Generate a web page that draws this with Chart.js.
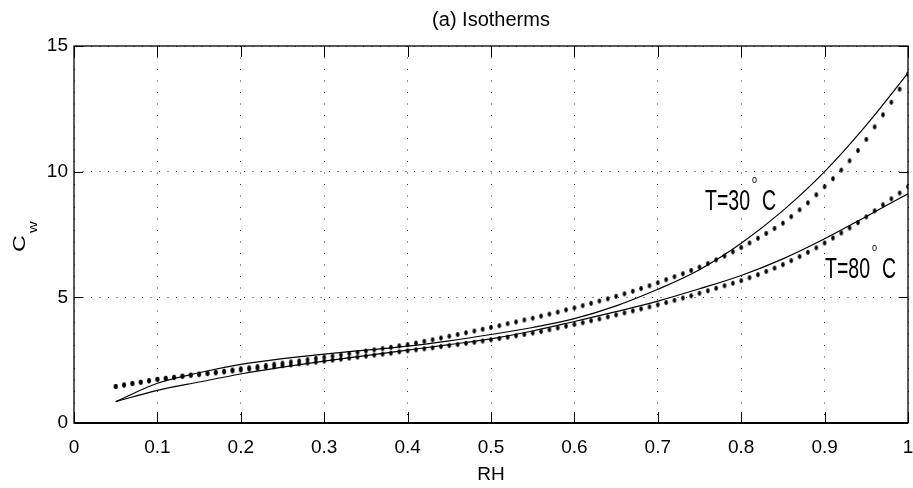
<!DOCTYPE html>
<html>
<head>
<meta charset="utf-8">
<script src="https://cdn.jsdelivr.net/npm/chart.js@4.4.1/dist/chart.umd.min.js"></script>
<style>
  html, body { margin: 0; padding: 0; background: #fff; }
  #wrap { width: 913px; height: 488px; }
</style>
</head>
<body>
<div id="wrap"><canvas id="isoChart" width="913" height="488"></canvas></div>
<script>
// relative humidity of the measured points (dots)
const rhDots = [0.05,0.06,0.07,0.08,0.09,0.10,0.11,0.12,0.13,0.14,
                0.15,0.16,0.17,0.18,0.19,0.20,0.21,0.22,0.23,0.24,
                0.25,0.26,0.27,0.28,0.29,0.30,0.31,0.32,0.33,0.34,
                0.35,0.36,0.37,0.38,0.39,0.40,0.41,0.42,0.43,0.44,
                0.45,0.46,0.47,0.48,0.49,0.50,0.51,0.52,0.53,0.54,
                0.55,0.56,0.57,0.58,0.59,0.60,0.61,0.62,0.63,0.64,
                0.65,0.66,0.67,0.68,0.69,0.70,0.71,0.72,0.73,0.74,
                0.75,0.76,0.77,0.78,0.79,0.80,0.81,0.82,0.83,0.84,
                0.85,0.86,0.87,0.88,0.89,0.90,0.91,0.92,0.93,0.94,
                0.95,0.96,0.97,0.98,0.99,1.00];

const cw30Dots = [1.45,1.51,1.57,1.62,1.68,1.74,1.78,1.82,1.87,1.91,
                  1.95,1.98,2.02,2.06,2.11,2.16,2.20,2.25,2.29,2.34,
                  2.38,2.43,2.47,2.52,2.57,2.62,2.66,2.71,2.76,2.81,
                  2.86,2.91,2.96,3.01,3.07,3.12,3.18,3.25,3.31,3.38,
                  3.45,3.52,3.59,3.66,3.73,3.80,3.87,3.95,4.02,4.10,
                  4.17,4.25,4.33,4.41,4.50,4.58,4.67,4.76,4.85,4.94,
                  5.04,5.14,5.24,5.35,5.46,5.58,5.70,5.82,5.94,6.07,
                  6.20,6.34,6.49,6.64,6.81,6.98,7.16,7.35,7.54,7.74,
                  7.95,8.21,8.48,8.76,9.08,9.40,9.72,10.06,10.43,10.84,
                  11.28,11.78,12.26,12.76,13.28,13.88];

const cw80Dots = [1.45,1.51,1.57,1.62,1.68,1.73,1.77,1.81,1.85,1.89,
                  1.92,1.96,1.99,2.03,2.07,2.10,2.14,2.17,2.21,2.24,
                  2.28,2.31,2.35,2.38,2.42,2.46,2.50,2.54,2.58,2.62,
                  2.66,2.70,2.74,2.78,2.83,2.87,2.91,2.95,2.99,3.04,
                  3.08,3.12,3.17,3.21,3.26,3.31,3.36,3.41,3.47,3.52,
                  3.58,3.64,3.71,3.78,3.85,3.92,3.99,4.07,4.14,4.22,
                  4.30,4.38,4.46,4.54,4.62,4.70,4.79,4.88,4.97,5.06,
                  5.16,5.26,5.36,5.46,5.56,5.66,5.78,5.90,6.03,6.16,
                  6.30,6.46,6.62,6.79,6.97,7.16,7.36,7.56,7.76,7.97,
                  8.20,8.44,8.68,8.92,9.15,9.40];

// fitted isotherms (solid lines)
const rhFit  = [0.05,0.10,0.15,0.20,0.25,0.30,0.35,0.40,0.45,0.50,
                0.55,0.60,0.65,0.70,0.75,0.80,0.85,0.90,0.95,1.00];
const cw30Fit = [0.85,1.58,2.00,2.33,2.56,2.74,2.90,3.06,3.27,3.52,
                 3.80,4.15,4.66,5.32,6.10,7.15,8.45,10.0,11.85,13.92];
const cw80Fit = [0.85,1.30,1.63,1.95,2.22,2.46,2.68,2.90,3.12,3.35,
                 3.66,4.04,4.43,4.85,5.34,5.87,6.53,7.33,8.22,9.12];

const xTickValues = [0,0.1,0.2,0.3,0.4,0.5,0.6,0.7,0.8,0.9,1];
const xTickLabels = ['0','0.1','0.2','0.3','0.4','0.5','0.6','0.7','0.8','0.9','1'];
const yTickValues = [0,5,10,15];
const yTickLabels = ['0','5','10','15'];

// text labels next to the curves, anchored in data units
const curveLabels = [
    { text: 'T=30', x: 0.7566, y: 8.48 },
    { text: 'T=80', x: 0.9005, y: 5.77 }
];

const SANS = "'Liberation Sans', Arial, sans-serif";

function toXY(xs, ys) {
    return xs.map((v, i) => ({ x: v, y: ys[i] }));
}

// slightly tall elliptic marker, like the stretched matlab dots
const dotImg = document.createElement('canvas');
dotImg.width = 6;
dotImg.height = 7;
const dctx = dotImg.getContext('2d');
dctx.fillStyle = '#000';
dctx.beginPath();
dctx.ellipse(3, 3.5, 1.8, 2.4, 0, 0, Math.PI * 2);
dctx.fill();

// box + inward ticks
const boxPlugin = {
    id: 'boxTicks',
    afterDraw(chart) {
        const { ctx, chartArea: a, scales: { x, y } } = chart;
        ctx.save();
        ctx.strokeStyle = '#000';
        ctx.lineWidth = 1;
        ctx.beginPath();
        xTickValues.forEach(v => {
            const px = Math.round(x.getPixelForValue(v)) + 0.5;
            ctx.moveTo(px, a.bottom); ctx.lineTo(px, a.bottom - 11);
            ctx.moveTo(px, a.top); ctx.lineTo(px, a.top + 11);
        });
        yTickValues.forEach(v => {
            const py = Math.round(y.getPixelForValue(v)) + 0.5;
            ctx.moveTo(a.left, py); ctx.lineTo(a.left + 9, py);
            ctx.moveTo(a.right, py); ctx.lineTo(a.right - 9, py);
        });
        ctx.stroke();
        ctx.lineWidth = 1.3;
        ctx.strokeRect(a.left, a.top, a.right - a.left, a.bottom - a.top);
        ctx.lineWidth = 2;
        ctx.beginPath();
        ctx.moveTo(a.left, a.bottom); ctx.lineTo(a.right, a.bottom);
        ctx.stroke();
        ctx.restore();
    }
};

// y axis title C_w (rotated, with subscript)
const yTitlePlugin = {
    id: 'yTitle',
    afterDraw(chart) {
        const { ctx, chartArea: a } = chart;
        const mid = (a.top + a.bottom) / 2;
        ctx.save();
        ctx.fillStyle = '#000';
        ctx.textBaseline = 'alphabetic';
        ctx.translate(25, mid);
        ctx.rotate(-Math.PI / 2);
        ctx.save();
        ctx.translate(-17.5, 0);
        ctx.scale(1.3, 0.95);
        ctx.font = '18px ' + SANS;
        ctx.fillText('C', 0, 0);
        ctx.restore();
        ctx.save();
        ctx.translate(1.5, 12);
        ctx.scale(1.2, 0.95);
        ctx.font = '13.5px ' + SANS;
        ctx.fillText('w', 0, 0);
        ctx.restore();
        ctx.restore();
    }
};

// T=30 °C / T=80 °C
const labelPlugin = {
    id: 'curveLabels',
    afterDatasetsDraw(chart) {
        const { ctx, scales: { x, y } } = chart;
        curveLabels.forEach(lab => {
            const px = x.getPixelForValue(lab.x);
            const py = y.getPixelForValue(lab.y);
            ctx.save();
            ctx.fillStyle = '#000';
            ctx.textBaseline = 'alphabetic';
            ctx.font = '19.5px ' + SANS;
            const w = ctx.measureText(lab.text).width;
            ctx.save();
            ctx.translate(px, py);
            ctx.scale(1, 1.55);
            ctx.fillText(lab.text, 0, 0);
            ctx.restore();
            ctx.font = '9px ' + SANS;
            const ow = ctx.measureText('o').width;
            ctx.save();
            ctx.translate(px + w + 2, py - 27);
            ctx.scale(1, 1.15);
            ctx.fillText('o', 0, 0);
            ctx.restore();
            ctx.font = '19.5px ' + SANS;
            ctx.save();
            ctx.translate(px + w + 2 + ow + 5, py);
            ctx.scale(1, 1.55);
            ctx.fillText('C', 0, 0);
            ctx.restore();
            ctx.restore();
        });
    }
};

const ctx = document.getElementById('isoChart').getContext('2d');

new Chart(ctx, {
    type: 'scatter',
    data: {
        datasets: [
            {
                label: 'T=30 fit',
                data: toXY(rhFit, cw30Fit),
                showLine: true,
                borderColor: '#000',
                borderWidth: 1.2,
                pointRadius: 0,
                cubicInterpolationMode: 'monotone'
            },
            {
                label: 'T=80 fit',
                data: toXY(rhFit, cw80Fit),
                showLine: true,
                borderColor: '#000',
                borderWidth: 1.2,
                pointRadius: 0,
                cubicInterpolationMode: 'monotone'
            },
            {
                label: 'T=30 data',
                data: toXY(rhDots, cw30Dots),
                showLine: false,
                pointStyle: dotImg
            },
            {
                label: 'T=80 data',
                data: toXY(rhDots, cw80Dots),
                showLine: false,
                pointStyle: dotImg
            }
        ]
    },
    options: {
        responsive: false,
        animation: false,
        events: [],
        layout: { padding: { left: 0, right: 5, top: 0, bottom: 0 } },
        plugins: {
            legend: { display: false },
            tooltip: { enabled: false },
            title: {
                display: true,
                fullSize: false,
                text: '(a) Isotherms',
                color: '#000',
                font: { family: SANS, size: 20, weight: 'normal' },
                padding: { top: 8, bottom: 14 }
            }
        },
        scales: {
            x: {
                type: 'linear',
                min: 0,
                max: 1,
                afterBuildTicks: s => { s.ticks = xTickValues.map(v => ({ value: v })); },
                afterFit: s => {
                    s.height = 65;
                    s.paddingLeft = 0;
                    s.paddingRight = 0;
                },
                grid: { color: '#333', lineWidth: 1, drawTicks: false },
                border: { display: false, dash: [1, 10.5] },
                ticks: {
                    color: '#000',
                    padding: 13,
                    maxRotation: 0,
                    font: { family: SANS, size: 19 },
                    callback: (v, i) => xTickLabels[i]
                },
                title: {
                    display: true,
                    text: 'RH',
                    color: '#000',
                    font: { family: SANS, size: 19 },
                    padding: { top: 0, bottom: 2 }
                }
            },
            y: {
                type: 'linear',
                min: 0,
                max: 15,
                afterBuildTicks: s => { s.ticks = yTickValues.map(v => ({ value: v })); },
                afterFit: s => { s.width = 74; },
                grid: { color: '#333', lineWidth: 1, drawTicks: false },
                border: { display: false, dash: [1, 7.5] },
                ticks: {
                    color: '#000',
                    padding: 6,
                    font: { family: SANS, size: 19 },
                    callback: (v, i) => yTickLabels[i]
                }
            }
        }
    },
    plugins: [labelPlugin, boxPlugin, yTitlePlugin]
});
</script>
</body>
</html>
